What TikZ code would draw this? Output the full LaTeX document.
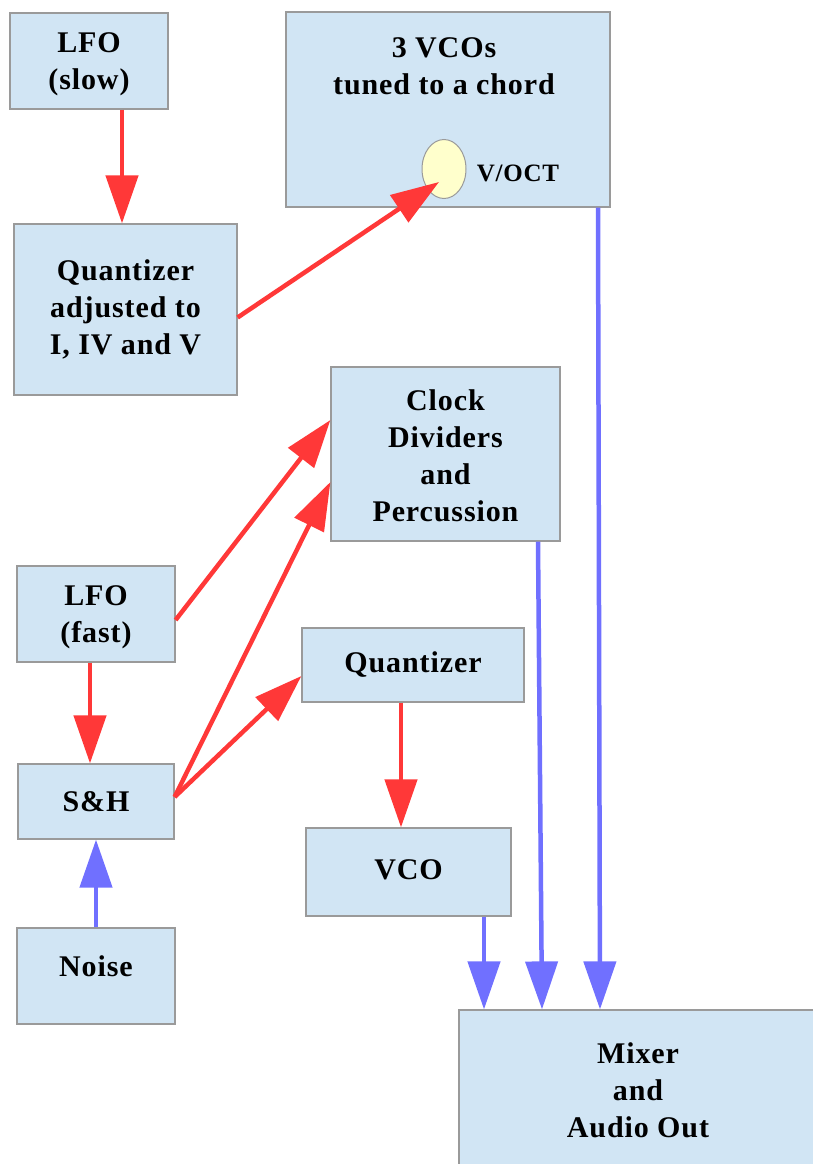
\documentclass[tikz,border=0pt]{standalone}
\usepackage{fontspec}
\setmainfont{Liberation Serif}[LetterSpace=3]
\usetikzlibrary{arrows.meta,shapes.geometric}
\definecolor{boxfill}{HTML}{D1E5F4}
\definecolor{boxline}{HTML}{9A9A9A}
\definecolor{redarr}{HTML}{FF3838}
\definecolor{bluearr}{HTML}{7070FF}
\definecolor{ellfill}{HTML}{FFFFCC}
\begin{document}
\begin{tikzpicture}[x=1pt,y=-1pt,
  blk/.style={draw=boxline,line width=1.2pt,fill=boxfill,inner sep=0pt,
    font=\fontsize{30}{37}\selectfont\bfseries,align=center},
  lbl/.style={font=\fontsize{30}{37}\selectfont\bfseries,align=center},
  redcon/.style={draw=redarr,line width=4.5pt,-{Triangle[length=48pt,width=32pt]}},
  bluecon/.style={draw=bluearr,line width=4.5pt,-{Triangle[length=48pt,width=32pt]}}]
\useasboundingbox (0,0) rectangle (813,1164);
\begin{scope}
\clip (0,0) rectangle (813,1164);
\node[blk,minimum width=158pt,minimum height=96pt] (lfos) at (89,61) {};
\node[lbl] (lfost) at (89,64) {LFO\\(slow)};
\node[blk,minimum width=324pt,minimum height=195pt] (vcos) at (448,109.5) {};
\node[lbl] (vcost) at (444,66) {3 VCOs\\tuned to a chord};
\node[draw=boxline,line width=1pt,fill=ellfill,ellipse,minimum width=44pt,minimum height=59pt,inner sep=0pt] (ell) at (444,169) {};
\node[font=\fontsize{25}{28}\selectfont\bfseries] (voct) at (518,173) {V/OCT};
\node[blk,minimum width=223pt,minimum height=171pt] (qadj) at (125.5,309.5) {Quantizer\\adjusted to\\I, IV and V};
\node[blk,minimum width=229pt,minimum height=174pt] (clock) at (445.5,454) {};
\node[lbl] (clockt) at (445.5,456) {Clock\\Dividers\\and\\Percussion};
\node[blk,minimum width=158pt,minimum height=96pt] (lfof) at (96,614) {};
\node[lbl] (lfoft) at (96,617) {LFO\\(fast)};
\node[blk,minimum width=222pt,minimum height=74pt] (quant) at (413,665) {Quantizer};
\node[blk,minimum width=156pt,minimum height=75pt] (sh) at (96,801.5) {S\&H};
\node[blk,minimum width=205pt,minimum height=88pt] (vco) at (408.5,872) {};
\node[lbl] (vcot) at (408.5,870) {VCO};
\node[blk,minimum width=158pt,minimum height=96pt] (noise) at (96,976) {};
\node[lbl] (noiset) at (96,966) {Noise};
\node[blk,minimum width=358pt,minimum height=160pt] (mixer) at (638,1090) {Mixer\\and\\Audio Out};
\end{scope}
\draw[redcon] ([xshift=33pt]lfos.south) -- ([xshift=-3.5pt]qadj.north);
\draw[redcon] ([yshift=-8pt]qadj.east) -- ([shift={(-5pt,-13pt)}]ell.center);
\draw[redcon] ([yshift=-6pt]lfof.east) -- ([yshift=34pt]clock.west);
\draw[redcon] ([yshift=4.5pt]sh.east) -- ([yshift=-28pt]clock.west);
\draw[redcon] ([yshift=4.5pt]sh.east) -- ([yshift=-11pt]quant.west);
\draw[redcon] ([xshift=-6pt]lfof.south) -- ([xshift=-6pt]sh.north);
\draw[redcon] ([xshift=-12pt]quant.south) -- ([xshift=-7.5pt]vco.north);
\draw[bluecon] (noise.north) -- (sh.south);
\draw[bluecon] ([xshift=75.5pt]vco.south) -- ([xshift=-154pt]mixer.north);
\draw[bluecon] ([xshift=92.5pt]clock.south) -- ([xshift=-96pt]mixer.north);
\draw[bluecon] ([xshift=150pt]vcos.south) -- ([xshift=-38pt]mixer.north);
\end{tikzpicture}
\end{document}
